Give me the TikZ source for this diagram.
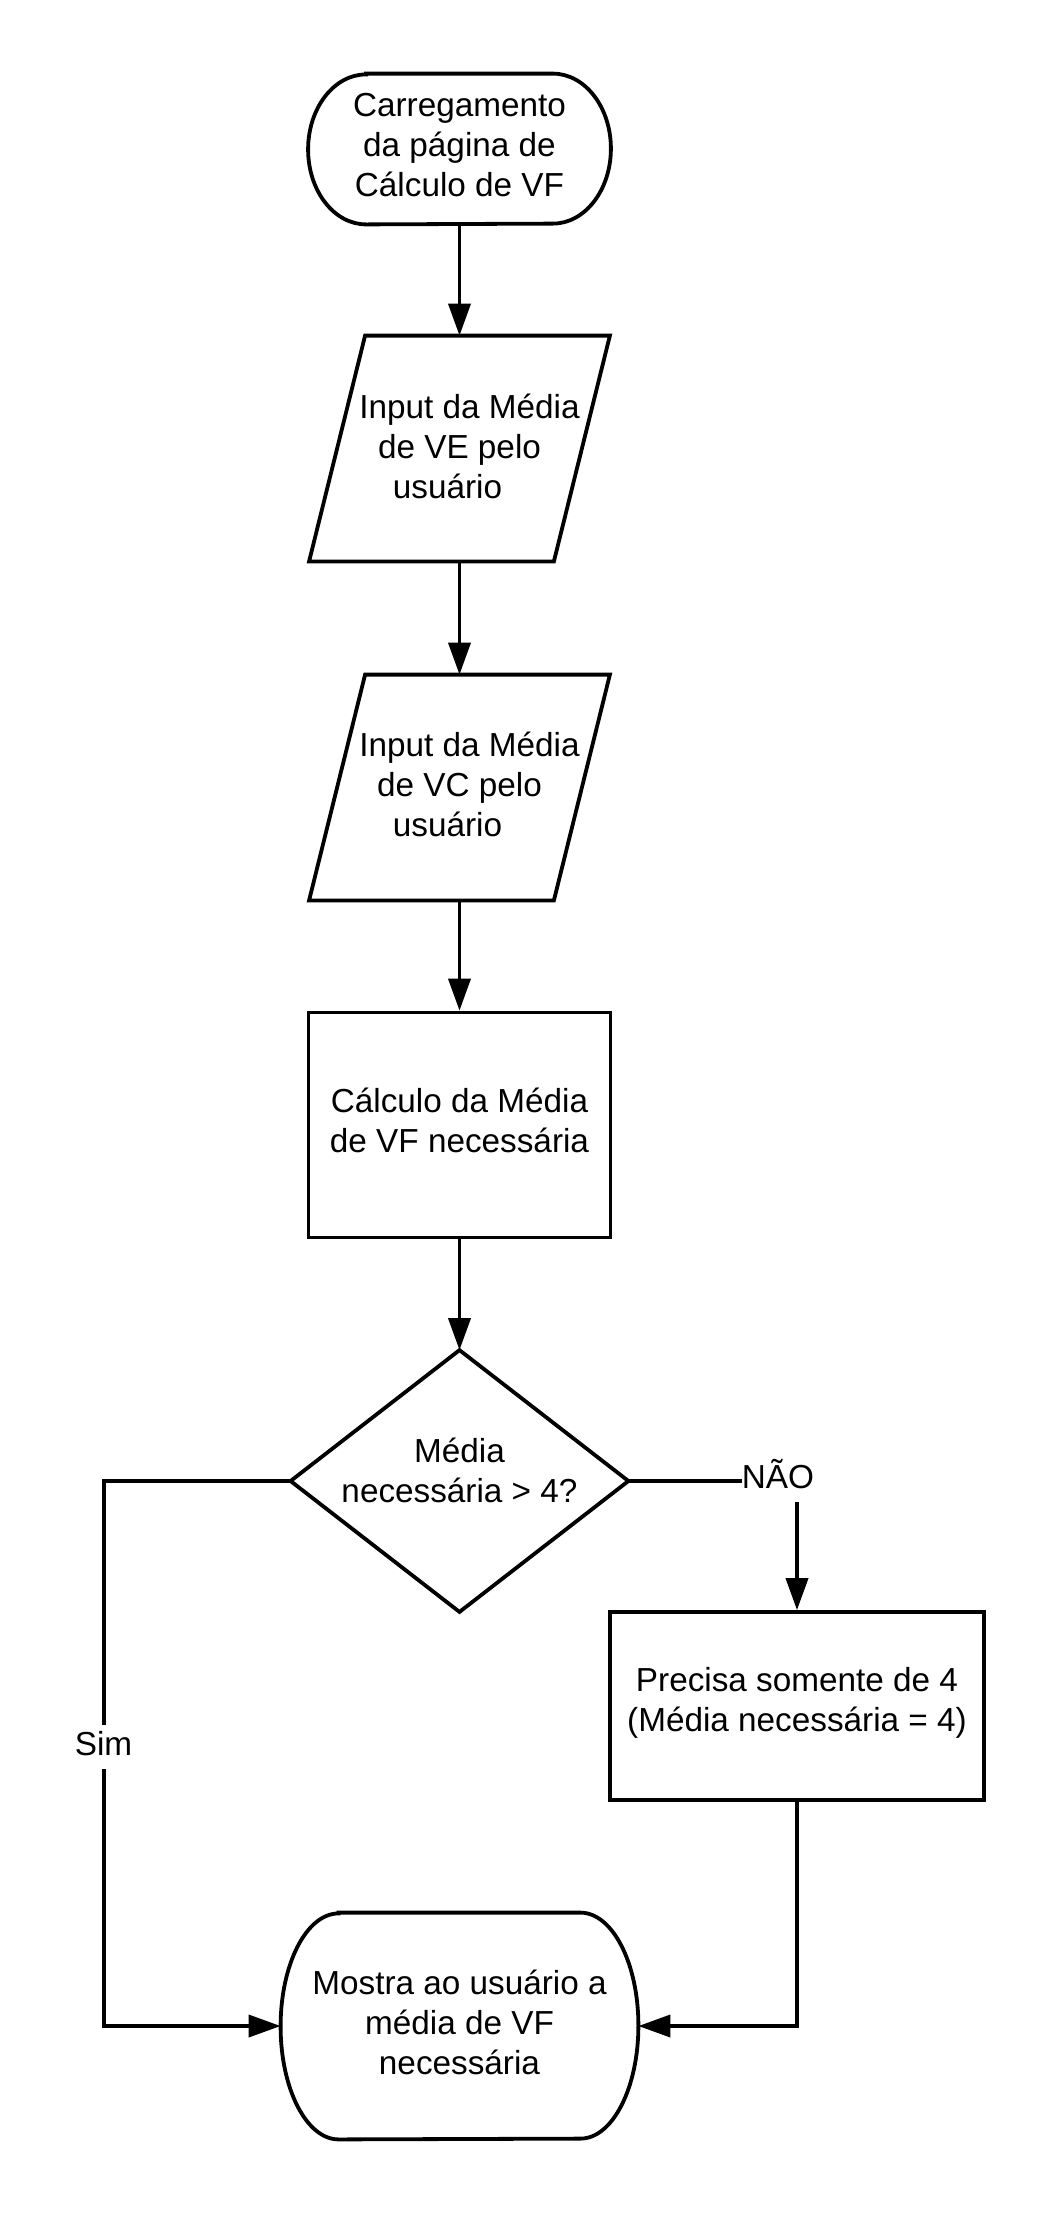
\documentclass[tikz,border=0pt]{standalone}
\usepackage{fontspec}
\setmainfont{Liberation Sans}
\usetikzlibrary{arrows.meta}
\newcommand\tstrut{\rule{0pt}{1em}}
\newcommand\bstrut[1]{\rule[-#1]{0pt}{#1}}
\begin{document}
\begin{tikzpicture}[x=0.5pt,y=-0.5pt,
  shapebox/.style={rectangle, inner sep=0pt, align=center, font=\fontsize{16.65pt}{20pt}\selectfont},
  parabox/.style={shapebox, minimum width=150pt},
  outline/.style={draw=black, line width=1.9pt},
  conn/.style={draw=black, line width=1.9pt, -{Triangle[length=16pt,width=11pt]}},
  lbl/.style={fill=white, inner sep=0pt, text height=15pt, text depth=7pt, font=\fontsize{16.65pt}{20pt}\selectfont, anchor=base}]
\useasboundingbox (0,0) rectangle (1059,2213);

% nodes
\node[shapebox, minimum width=151pt, minimum height=75pt] (start) at (459.5,149)
  {\tstrut Carregamento\\da página de\\Cálculo de VF\bstrut{9.65pt}};
\node[parabox, minimum height=112.5pt] (in1) at (459.5,448.5)
  {\tstrut\hspace*{10pt}Input da Média\\de VE pelo\\usuário\hspace*{12pt}\bstrut{7pt}};
\node[parabox, minimum height=112.5pt] (in2) at (459.5,787.5)
  {\tstrut\hspace*{10pt}Input da Média\\de VC pelo\\usuário\hspace*{12pt}\bstrut{7.5pt}};
\node[shapebox, outline, minimum width=151pt, minimum height=112.5pt] (calc) at (459.5,1125)
  {\tstrut Cálculo da Média\\de VF necessária\bstrut{9.65pt}};
\node[shapebox, minimum width=168.5pt, minimum height=130.5pt] (dec) at (459.5,1481)
  {\tstrut Média\\necessária > 4?\bstrut{15.65pt}};
\node[shapebox, outline, minimum width=187pt, minimum height=94pt] (rect2) at (797,1706)
  {\tstrut Precisa somente de 4\\(Média necessária = 4)\bstrut{11.15pt}};
\node[shapebox, minimum width=178.5pt, minimum height=113pt] (end) at (459.5,2026)
  {\tstrut Mostra ao usuário a\\média de VF\\necessária\bstrut{8.65pt}};

% outlines
\draw[outline] ([xshift=29pt]start.north west) -- ([xshift=-29pt]start.north east)
  arc[start angle=90,end angle=-90,x radius=29pt,y radius=37.5pt]
  -- ([xshift=29pt]start.south west)
  arc[start angle=270,end angle=90,x radius=29pt,y radius=37.5pt] -- cycle;
\draw[outline] ([xshift=28pt]in1.north west) -- (in1.north east)
  -- ([xshift=-28pt]in1.south east) -- (in1.south west) -- cycle;
\draw[outline] ([xshift=28pt]in2.north west) -- (in2.north east)
  -- ([xshift=-28pt]in2.south east) -- (in2.south west) -- cycle;
\draw[outline] (dec.north) -- (dec.east) -- (dec.south) -- (dec.west) -- cycle;
\draw[outline] ([xshift=29pt]end.north west) -- ([xshift=-29pt]end.north east)
  arc[start angle=90,end angle=-90,x radius=29pt,y radius=56.5pt]
  -- ([xshift=29pt]end.south west)
  arc[start angle=270,end angle=90,x radius=29pt,y radius=56.5pt] -- cycle;

% connectors
\draw[conn] (start.south) -- (in1.north);
\draw[conn] (in1.south) -- (in2.north);
\draw[conn] (in2.south) -- (calc.north);
\draw[conn] (calc.south) -- (dec.north);
\coordinate (simc) at (104,2026);
\draw[conn] (dec.west) -| (simc) -- (end.west);
\draw[conn] (dec.east) -| (rect2.north);
\draw[conn] (rect2.south) |- (end.east);

% labels
\node[lbl] (sim) at (103.5,1755) {Sim};
\node[lbl] (nao) at (778,1488) {NÃO};
\end{tikzpicture}
\end{document}
